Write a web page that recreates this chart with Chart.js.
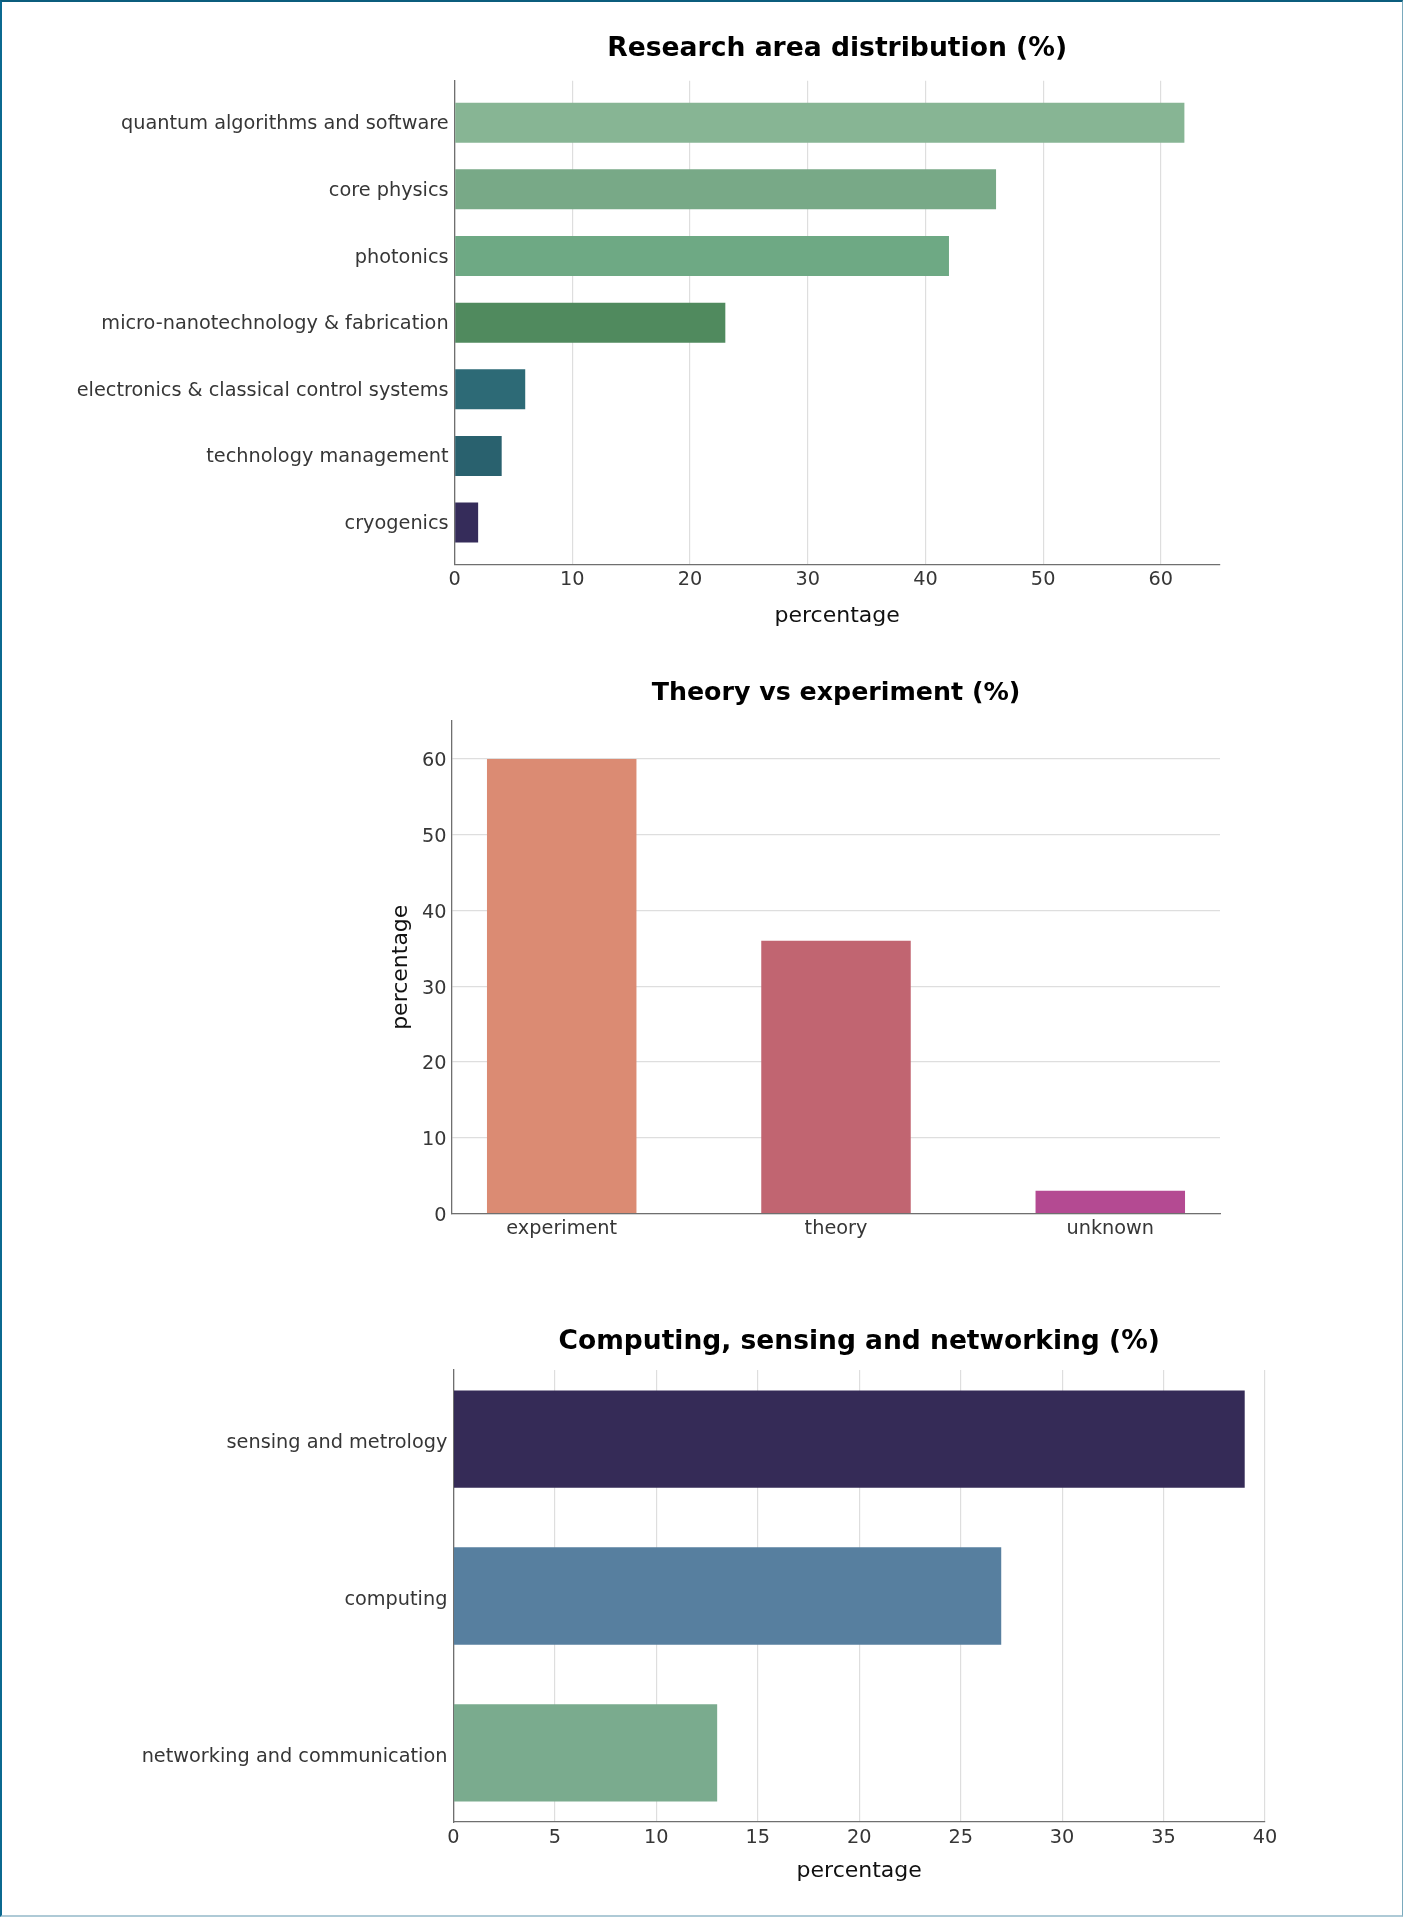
<!DOCTYPE html>
<html>
<head>
<meta charset="utf-8">
<script src="https://cdn.jsdelivr.net/npm/chart.js@4.4.1/dist/chart.umd.min.js"></script>
<style>
  html, body { margin: 0; padding: 0; background: #fff; }
  #page { position: relative; width: 1403px; height: 1917px; overflow: hidden; background: #fff; }
  #page canvas { position: absolute; left: 0; }
  #frame {
    position: absolute; left: 0; top: 0; width: 1403px; height: 1917px; box-sizing: border-box;
    border-top: 2px solid #0b5d7d; border-left: 2px solid #0b6990;
    border-bottom: 2px solid #aecad6; border-right: 1px solid #7aaabd;
    pointer-events: none;
  }
</style>
</head>
<body>
<div id="page">
  <canvas id="areas"></canvas>
  <canvas id="methods"></canvas>
  <canvas id="domains"></canvas>
  <div id="frame"></div>
</div>
<script>
// ---- data ----
const areaLabels = [
  'quantum algorithms and software',
  'core physics',
  'photonics',
  'micro-nanotechnology & fabrication',
  'electronics & classical control systems',
  'technology management',
  'cryogenics'
];
const areaValues = [62, 46, 42, 23, 6, 4, 2];
const areaColors = ['#87b594', '#78a987', '#6ea984', '#508a5e', '#2d6a76', '#29616e', '#352c5a'];
const areaTicks = [0, 10, 20, 30, 40, 50, 60];

const methodLabels = ['experiment', 'theory', 'unknown'];
const methodValues = [60, 36, 3];
const methodColors = ['#db8b73', '#c16571', '#b44a92'];
const methodTicks = [0, 10, 20, 30, 40, 50, 60];

const domainLabels = ['sensing and metrology', 'computing', 'networking and communication'];
const domainValues = [39, 27, 13];
const domainColors = ['#352b57', '#577f9f', '#7aab8e'];
const domainTicks = [0, 5, 10, 15, 20, 25, 30, 35, 40];

// ---- shared styling ----
const FONT = "'DejaVu Sans', 'Liberation Sans', sans-serif";
const GRID = '#dedede';
const AXIS = '#6f6f6f';
const TICK = '#363636';
const TICK_SIZE = 19.3, AXIS_TITLE_SIZE = 22;
const PAGE_W = 1403;

Chart.defaults.font.family = FONT;
Chart.defaults.animation = false;

// Builds one bar panel. `frame` is the canvas slot on the page, `spec.area` the
// plot rectangle in page pixels; axis boxes are sized so the plot lands there.
function buildChart(id, frame, spec) {
  const cv = document.getElementById(id);
  cv.width = PAGE_W;
  cv.height = frame.height;
  cv.style.top = frame.top + 'px';

  const horizontal = spec.horizontal;
  const n = spec.labels.length;
  const area = {
    left: spec.area.left, right: spec.area.right,
    top: spec.area.top - frame.top, bottom: spec.area.bottom - frame.top
  };
  const titleLH = spec.titleSize * 1.2;
  const axisLH = AXIS_TITLE_SIZE * 1.2;
  const padTop = spec.titleY - frame.top - titleLH / 2;
  const titleGap = area.top - padTop - titleLH;
  const xHeight = spec.xTitleY != null ? (spec.xTitleY - frame.top) - area.bottom + axisLH / 2 : 45;
  const padBottom = frame.height - area.bottom - xHeight;
  const padLeft = spec.yTitleX != null ? spec.yTitleX - axisLH / 2 : 0;
  const yWidth = area.left - padLeft;
  const padRight = PAGE_W - area.right;

  const border = { display: true, color: AXIS, width: 1.3 };

  const indexAxis = {
    type: 'linear',
    min: -spec.spread, max: n - 1 + spec.spread,
    reverse: horizontal,
    offset: false,
    grid: { display: false, drawTicks: false, offset: false },
    border: border,
    afterBuildTicks: s => { s.ticks = spec.labels.map((_, i) => ({ value: i })); },
    ticks: {
      callback: v => spec.labels[v],
      font: { size: TICK_SIZE }, color: TICK,
      padding: horizontal ? 6 : 3.5,
      autoSkip: false, maxRotation: 0, minRotation: 0
    }
  };
  const valueAxis = {
    type: 'linear',
    min: 0, max: spec.valueMax,
    grid: { display: true, color: GRID, lineWidth: 1.2, drawTicks: false },
    border: border,
    afterBuildTicks: s => { s.ticks = spec.ticks.map(v => ({ value: v })); },
    ticks: {
      callback: v => String(v),
      font: { size: TICK_SIZE }, color: TICK,
      padding: horizontal ? 4 : 5.5,
      autoSkip: false, maxRotation: 0, minRotation: 0
    }
  };

  const xAxis = horizontal ? valueAxis : indexAxis;
  const yAxis = horizontal ? indexAxis : valueAxis;
  xAxis.position = 'bottom';
  yAxis.position = 'left';
  yAxis.ticks.labelOffset = spec.yLabelShift || 0;
  xAxis.afterFit = s => { s.height = xHeight; };
  yAxis.afterFit = s => { s.width = yWidth; };

  const axisTitle = text => ({
    display: true, text, color: '#111', padding: 0,
    font: { size: AXIS_TITLE_SIZE, lineHeight: 1.2 }
  });
  if (spec.xTitleY != null) xAxis.title = axisTitle(spec.axisTitle);
  if (spec.yTitleX != null) yAxis.title = axisTitle(spec.axisTitle);

  return new Chart(cv, {
    type: 'bar',
    data: {
      datasets: [{
        data: spec.values.map((v, i) => horizontal ? { x: v, y: i } : { x: i, y: v }),
        backgroundColor: spec.colors,
        borderWidth: 0,
        barPercentage: spec.barFrac,
        categoryPercentage: 1
      }]
    },
    options: {
      indexAxis: horizontal ? 'y' : 'x',
      responsive: false,
      maintainAspectRatio: false,
      layout: { padding: { top: padTop, bottom: padBottom, left: padLeft, right: padRight } },
      scales: { x: xAxis, y: yAxis },
      plugins: {
        legend: { display: false },
        tooltip: { enabled: false },
        title: {
          display: true, text: spec.title, fullSize: false, color: '#000',
          font: { size: spec.titleSize, weight: 'bold', lineHeight: 1.2 },
          padding: { top: 0, bottom: titleGap }
        }
      }
    }
  });
}

buildChart('areas', { top: 0, height: 650 }, {
  title: 'Research area distribution (%)', titleSize: 26.6,
  horizontal: true,
  labels: areaLabels, values: areaValues, colors: areaColors, ticks: areaTicks,
  valueMax: 65, spread: 0.63, barFrac: 0.6,
  area: { left: 454.6, right: 1219.7, top: 80.7, bottom: 564.6 },
  titleY: 49, xTitleY: 615.8, axisTitle: 'percentage', yLabelShift: 1.5
});

buildChart('methods', { top: 650, height: 640 }, {
  title: 'Theory vs experiment (%)', titleSize: 25.3,
  horizontal: false,
  labels: methodLabels, values: methodValues, colors: methodColors, ticks: methodTicks,
  valueMax: 65, spread: 0.4, barFrac: 0.545,
  area: { left: 452, right: 1220, top: 721, bottom: 1213.5 },
  titleY: 693, yTitleX: 401, axisTitle: 'percentage', yLabelShift: 2.5
});

buildChart('domains', { top: 1290, height: 627 }, {
  title: 'Computing, sensing and networking (%)', titleSize: 26.5,
  horizontal: true,
  labels: domainLabels, values: domainValues, colors: domainColors, ticks: domainTicks,
  valueMax: 40, spread: 0.44, barFrac: 0.62,
  area: { left: 453.4, right: 1265, top: 1370, bottom: 1822 },
  titleY: 1341.8, xTitleY: 1871, axisTitle: 'percentage', yLabelShift: 4
});
</script>
</body>
</html>
